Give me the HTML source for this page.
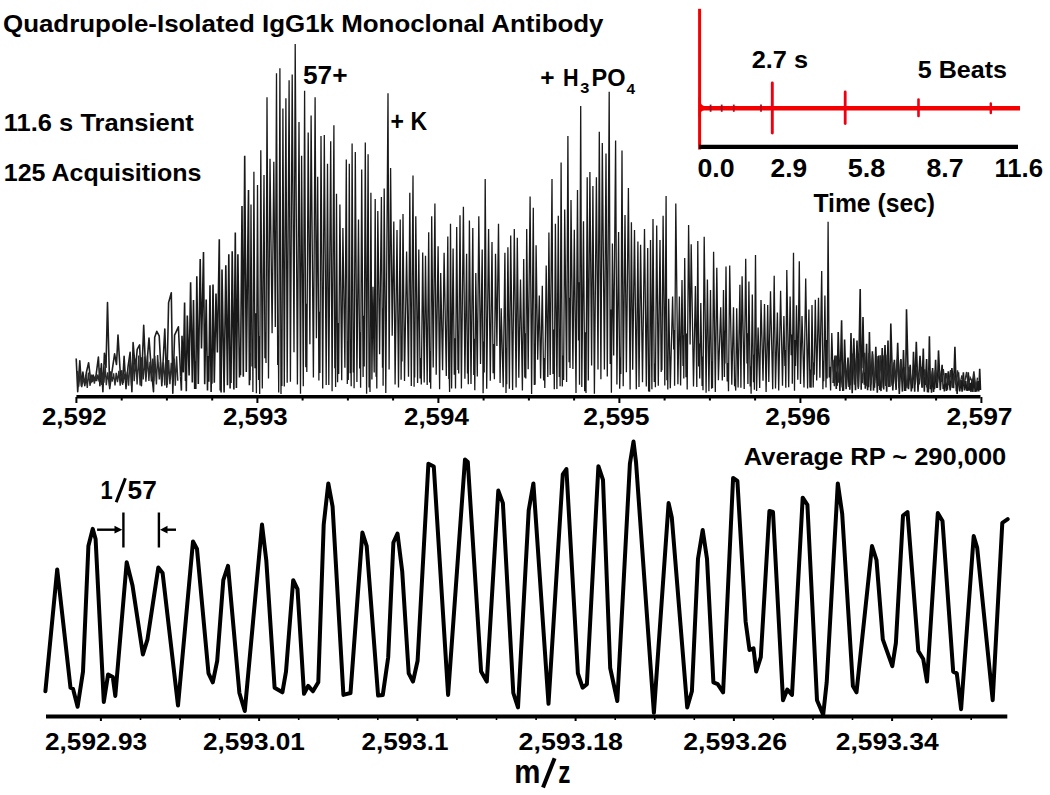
<!DOCTYPE html>
<html><head><meta charset="utf-8"><style>
html,body{margin:0;padding:0;background:#fff;width:1050px;height:795px;overflow:hidden}
svg{display:block}
text{font-family:"Liberation Sans",sans-serif;font-weight:bold;fill:#000}
</style></head><body>
<svg width="1050" height="795" viewBox="0 0 1050 795">
<rect width="1050" height="795" fill="#fff"/>
<path d="M249.8,352.8 250.1,380.3 251.0,204.5 252.0,366.6 252.6,341.3 252.9,392.1 253.9,171.8 255.0,368.2 255.6,313.3 256.4,393.3 257.5,185.0 258.6,380.1 259.0,336.0 259.7,394.0 260.8,150.3 262.3,388.6 264.0,175.0 264.9,358.3 265.4,332.3 266.0,363.1 267.0,97.3 268.5,378.4 270.0,158.7 272.1,333.3 273.8,161.7 275.3,327.0 276.5,73.2 277.7,365.0 278.3,335.7 278.7,392.6 279.9,68.2 281.0,394.1 281.3,349.7 281.9,386.1 282.9,108.4 284.3,386.4 285.9,98.3 287.2,382.7 289.1,80.2 290.4,381.7 292.2,74.6 294.0,352.2 295.2,44.0 297.4,384.4 299.0,122.0 300.5,393.7 301.6,155.7 303.3,386.3 304.6,90.7 305.8,367.2 306.6,303.8 306.8,372.1 308.2,132.6 309.9,344.3 311.1,115.5 313.4,377.6 315.1,97.3 316.4,338.2 317.7,176.8 318.9,380.6 319.2,311.7 319.9,372.9 321.0,136.0 322.7,388.4 324.3,135.0 326.2,385.1 327.5,163.8 328.8,384.9 330.7,141.3 332.1,391.3 333.9,125.3 334.8,368.2 335.1,317.6 335.6,387.0 336.5,193.7 337.6,382.3 338.1,323.0 338.7,373.9 339.9,204.4 341.7,380.2 342.9,228.0 344.9,367.8 346.3,159.5 347.3,383.9 347.9,341.1 348.3,380.1 349.3,163.8 350.2,373.2 350.7,353.1 351.2,386.3 352.1,143.5 353.3,372.5 353.8,339.3 354.1,388.3 355.3,152.0 356.9,381.9 358.5,219.4 359.7,368.4 360.1,332.3 360.6,387.7 361.7,169.6 363.1,377.0 363.4,315.8 364.2,366.4 365.3,142.4 366.6,393.8 368.1,154.2 369.1,387.4 369.6,369.5 370.0,391.9 370.9,192.7 371.9,379.4 373.0,286.8 374.2,372.4 375.2,199.0 376.1,376.8 376.4,332.7 376.8,388.5 377.8,210.9 379.6,354.3 381.4,197.0 382.5,367.8 382.9,308.3 383.1,385.8 384.2,188.4 385.8,393.0 388.0,93.2 389.1,369.5 390.6,168.0 392.2,335.7 393.8,221.6 395.1,384.6 397.0,230.0 398.5,387.5 400.2,219.4 401.1,379.7 401.5,341.4 402.0,361.6 403.0,214.0 404.5,380.9 406.6,251.5 408.5,376.7 409.8,192.7 411.3,386.1 413.0,175.6 414.1,386.8 414.4,326.4 414.7,377.5 415.8,216.2 417.6,383.1 418.8,249.4 420.1,378.5 420.6,358.0 421.3,384.6 422.7,252.6 424.2,382.4 425.5,255.8 427.2,385.1 428.7,232.2 429.7,382.6 430.3,350.9 430.7,388.8 431.7,216.2 433.2,367.4 434.9,203.4 436.2,374.7 438.1,246.3 439.6,389.3 440.7,273.0 442.6,370.2 444.1,252.7 446.3,376.0 447.8,236.6 448.8,379.0 449.0,362.1 449.6,391.9 450.5,223.8 451.6,388.4 453.1,248.4 454.3,374.7 455.0,338.2 455.5,388.6 456.7,227.0 458.0,370.0 458.3,341.8 458.7,373.6 460.0,215.2 461.4,388.6 463.4,206.7 464.9,378.7 466.6,253.7 467.5,373.5 467.9,360.4 468.3,384.2 469.4,220.6 471.0,383.9 472.8,228.1 473.8,374.9 474.2,338.7 474.8,390.3 475.8,273.0 477.3,376.4 478.8,216.3 480.5,364.1 482.2,249.5 483.1,393.2 483.8,341.5 484.2,372.5 485.2,178.9 486.7,388.8 488.6,229.1 490.3,380.8 492.0,242.0 493.1,373.3 493.7,344.1 494.4,379.3 495.5,253.7 496.9,346.0 498.5,223.8 500.1,383.0 501.2,308.3 503.2,387.2 504.9,252.7 506.0,393.1 506.5,348.2 506.7,384.3 507.9,247.3 509.4,388.7 510.7,235.6 512.6,389.9 514.3,229.1 516.1,387.6 517.3,237.7 518.8,377.8 520.5,279.4 522.4,390.6 523.7,259.1 524.8,377.5 525.1,333.2 525.8,378.6 526.7,229.1 528.2,369.2 530.1,196.6 531.6,394.0 533.3,207.8 534.3,385.1 534.7,356.8 535.1,384.8 536.1,245.2 537.7,359.8 539.3,295.5 540.6,378.5 542.3,285.8 543.6,380.5 544.4,358.0 544.8,388.1 546.2,265.5 547.8,377.1 548.9,232.4 550.2,375.0 552.0,178.9 553.0,374.1 553.7,329.4 554.3,389.3 555.4,223.8 556.9,388.9 558.3,215.8 559.3,376.9 559.8,328.8 560.1,386.3 561.1,162.4 562.3,386.4 563.0,355.5 563.6,379.9 564.7,209.4 566.6,382.1 567.9,136.0 569.1,362.3 569.5,297.7 570.0,367.9 571.0,200.0 572.9,369.1 574.3,229.7 576.0,393.1 577.5,190.0 578.5,340.4 579.0,282.3 579.5,384.7 580.7,106.1 581.8,387.0 583.5,221.2 584.7,391.3 585.5,332.3 586.0,393.1 587.2,177.3 588.3,380.6 589.9,172.0 591.6,365.5 592.9,185.9 594.4,393.7 596.4,177.3 598.0,369.6 599.3,131.8 600.9,379.2 602.3,143.1 604.4,369.4 606.0,153.4 607.3,376.6 609.2,91.8 610.2,364.0 610.8,309.5 611.4,392.8 612.4,243.6 613.7,355.6 615.6,140.5 616.9,384.5 618.6,231.9 619.7,388.7 620.3,357.6 620.8,374.1 622.0,150.6 623.2,386.2 625.0,215.0 626.4,372.3 628.4,188.0 630.1,389.6 631.4,222.2 632.7,369.7 634.5,230.0 636.3,389.3 637.9,241.5 639.0,386.9 640.6,244.7 642.5,382.3 644.5,229.1 646.3,386.5 647.7,247.9 648.6,391.5 649.0,371.0 649.6,391.8 650.5,240.0 651.9,389.3 653.0,219.0 654.3,382.1 655.0,363.4 655.4,387.2 656.7,225.5 658.3,385.8 660.0,240.0 661.2,371.9 661.6,353.5 661.9,370.3 663.1,215.8 664.8,385.4 666.1,196.0 666.9,380.2 667.5,359.9 667.8,389.5 668.7,298.7 670.3,388.3 672.6,296.6 673.7,349.6 674.2,330.0 674.6,385.7 675.8,203.5 677.9,384.2 679.4,296.6 680.6,385.4 682.0,280.0 683.0,365.9 683.5,335.2 683.8,378.5 684.7,258.1 686.0,377.3 686.5,333.5 687.2,389.5 688.6,224.9 690.1,344.4 691.2,244.2 693.5,386.6 695.4,285.9 696.8,386.9 697.8,241.0 698.7,366.5 699.4,343.6 699.7,378.6 700.8,303.0 702.1,385.9 702.6,356.5 703.0,390.3 704.2,236.7 706.1,392.8 707.4,279.5 708.9,391.2 710.5,290.0 711.6,388.7 712.0,361.1 712.5,387.9 713.6,251.7 715.3,392.0 716.8,267.7 718.4,380.3 720.7,307.3 722.3,380.6 723.5,290.0 724.4,377.1 724.9,330.8 725.0,363.4 726.0,266.6 727.2,381.6 727.9,363.0 728.5,391.2 729.7,265.6 731.8,384.8 733.5,307.3 734.6,386.3 735.1,378.8 735.7,390.6 736.7,308.3 738.1,387.4 739.9,284.8 740.9,387.8 742.1,276.3 744.2,389.0 745.7,258.7 747.0,363.5 747.4,333.2 747.9,384.0 748.9,281.6 750.2,386.4 750.6,366.3 751.1,393.8 752.3,294.4 753.5,382.2 753.8,354.8 754.4,389.7 755.5,254.9 756.6,391.0 758.1,327.6 759.7,388.1 761.0,300.0 763.0,380.7 764.5,304.1 766.1,392.1 767.7,305.1 768.8,382.0 770.5,291.2 772.7,389.3 774.2,275.8 775.5,388.5 777.4,312.6 778.7,390.5 780.6,290.8 782.5,385.8 783.9,315.9 784.9,366.1 785.2,350.0 785.8,387.7 786.8,269.9 788.7,387.2 790.1,296.6 791.2,355.3 791.9,334.5 792.3,383.8 793.5,252.8 794.5,390.7 795.1,340.0 795.5,365.9 796.5,305.2 797.8,379.8 799.3,261.3 800.5,384.1 802.0,315.9 804.0,387.6 805.7,278.4 807.6,388.4 808.9,309.5 809.9,387.4 810.5,369.6 811.1,387.8 812.0,305.0 813.2,387.4 813.8,362.6 814.2,374.8 815.3,299.8 816.7,380.5 818.5,297.7 819.9,377.8 821.7,271.0 822.9,389.2 823.5,361.2 823.7,381.2 824.9,295.6 826.0,387.5 826.6,340.0 827.1,378.4 828.1,221.8 829.2,377.4 829.9,366.7 830.6,390.5 831.8,333.0 833.3,383.0" fill="none" stroke="#1a1a1a" stroke-width="1.3" stroke-linejoin="miter"/>
<path d="M180.6,376.6 181.4,390.6 182.0,335.8 183.3,372.4 184.6,302.6 185.5,381.0 185.8,356.1 186.3,391.2 187.3,315.5 189.1,375.6 190.6,282.3 192.3,382.5 193.5,300.0 194.7,388.9 195.2,361.3 195.8,389.1 196.8,276.2 198.3,384.0 200.2,258.9 201.5,348.5 203.5,252.1 204.7,384.2 206.2,299.6 207.5,390.5 207.9,355.9 208.8,381.8 210.0,285.3 211.1,392.0 211.6,364.6 211.9,383.8 213.0,284.5 214.3,382.8 216.0,293.6 217.4,352.4 219.3,239.2 220.2,390.4 220.6,373.3 221.1,392.5 222.0,269.4 224.1,392.5 225.8,265.2 227.5,385.2 228.8,254.3 230.1,388.5 230.3,363.7 231.0,383.0 232.2,251.3 233.9,389.6 235.3,232.5 236.4,387.9 237.9,254.3 239.5,377.6 239.9,352.4 240.5,375.2 242.0,206.0 243.3,376.7 244.7,155.7 246.3,372.0 248.5,190.0 249.4,385.3 249.8,352.8 M833.3,383.0 835.0,355.5 836.3,389.0 836.6,371.8 837.1,385.9 838.2,331.9 839.9,391.1 841.6,320.2 842.8,390.9 843.2,382.7 843.5,390.7 844.6,339.4 846.1,389.2 848.0,357.6 849.0,386.9 849.4,378.4 849.8,389.7 851.0,333.0 852.2,393.2 853.8,338.3 855.5,390.3 857.0,340.5 858.4,387.3 860.2,289.1 861.2,389.7 861.6,349.4 861.9,368.2 863.0,317.0 864.3,384.7 864.9,372.5 865.3,388.7 866.6,343.7 867.6,390.3 868.1,379.0 868.5,387.2 869.4,331.9 870.7,390.8 872.4,351.2 873.5,390.6 874.0,381.4 874.5,387.8 875.8,346.9 877.3,392.6 878.8,355.5 879.9,390.0 880.7,384.0 881.0,391.1 882.2,348.0 883.7,389.5 885.0,345.0 886.7,391.8 888.0,340.5 888.9,382.1 889.3,365.1 889.9,386.9 890.8,323.4 892.8,390.4 894.4,359.7 896.1,389.9 897.7,342.7 899.3,393.9 900.9,359.1 902.4,391.6 903.5,350.0 904.7,391.0 905.0,375.5 905.6,391.0 906.5,309.2 908.5,389.3 910.2,364.8 911.3,391.4 912.0,384.5 912.4,388.4 913.5,351.7 914.7,391.7 916.3,341.9 918.0,391.7 920.0,355.8 922.0,387.7 923.3,348.5 924.3,391.7 925.0,376.7 925.4,384.9 926.6,359.1 927.5,392.3 927.9,385.1 928.4,392.4 929.4,336.2 930.4,389.3 931.0,377.9 931.5,392.6 932.6,368.1 933.6,391.9 934.2,380.6 934.5,389.3 935.6,359.9 936.6,388.0 937.0,379.6 937.4,388.0 938.5,350.4 940.3,390.1 942.1,364.8 943.2,389.0 943.7,384.6 944.4,391.5 945.4,373.0 946.5,391.0 947.0,384.0 947.4,389.7 948.3,371.3 950.2,390.5 951.9,368.1 953.6,388.2 954.9,346.8 956.3,391.1 956.8,384.7 957.1,394.0 958.5,372.2 959.7,391.4 961.1,380.1 962.1,391.7 963.4,372.2 964.4,390.5 965.8,381.1 966.6,390.7 967.0,386.2 967.5,390.9 968.3,372.2 969.2,390.6 970.2,382.8 971.0,391.9 971.9,380.5 972.9,392.0 974.0,374.6 975.1,391.9 975.9,382.7 976.8,391.7 977.8,381.2 978.8,391.4 979.7,368.9 980.5,390.0" fill="none" stroke="#1a1a1a" stroke-width="1.6" stroke-linejoin="miter"/>
<path d="M76.2,358.5 77.7,391.7 79.8,360.7 81.4,385.6 82.9,372.0 84.8,385.6 86.3,372.8 88.6,362.7 90.9,382.6 93.1,375.0 95.4,380.3 98.4,357.0 99.9,385.6 101.4,363.7 102.9,391.7 104.4,353.2 106.0,367.5 107.5,302.6 109.7,388.6 111.5,375.0 114.6,353.9 116.5,364.5 118.0,335.1 120.3,373.6 122.6,384.1 124.1,356.2 126.0,388.6 128.1,366.0 130.1,352.4 131.9,391.7 133.1,342.6 135.4,370.5 137.2,349.4 139.6,344.9 141.4,385.6 143.7,325.3 145.9,376.6 149.0,338.1 151.2,367.5 153.5,391.7 154.7,337.3 156.8,331.3 159.2,335.8 161.8,385.6 164.8,329.0 166.8,387.1 168.6,302.6 171.3,292.8 172.8,393.2 174.6,335.1 178.4,326.8 180.6,376.6" fill="none" stroke="#1e1e1e" stroke-width="1.6" stroke-linejoin="round"/>
<path d="M77.5,371.0 78.7,386.7 80.3,370.8 81.7,387.2 83.2,377.7 84.6,384.3 85.9,374.7 87.3,387.9 88.4,372.6 90.1,385.8 91.3,374.5 92.3,382.1 93.3,376.8 94.4,383.6 95.7,375.6 96.7,381.1 97.8,374.5 99.1,381.5 100.3,368.1 101.8,385.0 102.8,372.7 103.9,382.8 105.2,366.2 106.3,385.2 107.7,372.3 109.4,386.2 110.6,371.3 112.1,381.6 113.6,373.3 115.0,385.5 116.2,372.8 117.5,382.1 118.9,370.9 120.2,385.8 121.7,370.2 123.3,382.8 124.6,373.8 125.8,380.9 127.4,371.5 128.6,385.7 130.1,358.6 131.5,385.6 132.9,355.8 134.2,381.1 135.9,358.5 137.1,384.4 138.7,355.6 140.1,385.5 141.5,357.2 143.2,379.5 144.5,356.6 145.9,381.8 147.5,355.6 148.9,381.0 150.0,361.8 151.4,381.5 152.8,358.6 153.8,381.3 154.8,355.8 156.4,384.5 157.6,355.1 159.3,379.5 160.4,361.8 161.8,382.1 163.4,362.3 164.8,385.5 165.8,359.2 167.3,384.9 168.6,360.0 169.9,384.1 171.3,362.9 172.6,380.3 174.2,358.6 175.3,385.7 176.6,356.3 177.8,380.8 M833.0,359.8 834.4,386.3 836.2,355.5 838.3,382.6 840.0,361.7 842.2,387.5 844.3,362.4 846.5,386.7 848.2,359.6 850.5,385.1 852.6,353.6 854.5,384.8 856.6,358.0 858.3,388.9 860.1,353.4 862.4,383.3 864.7,352.7 866.9,386.1 869.0,353.1 870.9,384.5 872.6,354.0 874.6,383.3 877.0,356.1 878.8,385.9 880.3,355.3 881.8,387.6 884.0,355.2 885.7,386.0 887.2,354.8 888.7,387.0 890.4,363.2 892.0,385.7 894.0,362.2 895.6,384.2 897.3,358.7 899.0,388.2 900.6,359.9 902.8,380.7 904.9,367.2 907.0,388.3 908.8,366.8 911.2,384.5 913.1,370.0 915.2,384.5 917.0,368.3 919.3,384.5 921.2,366.9 922.6,387.4 924.8,369.3 926.8,387.3 928.7,369.8 930.3,385.0 932.4,370.7 934.0,382.5 935.4,369.8 937.4,383.2 939.5,370.5 941.3,381.8 943.3,369.1 944.9,383.9 946.9,373.2 948.5,385.1 950.6,370.1 952.2,387.8 953.9,374.8 955.8,384.6 957.5,370.4 959.6,386.1 961.9,375.3 964.2,384.5 966.6,372.0 968.3,386.9 970.1,377.3 972.4,381.9 973.9,371.3 975.9,388.5 977.5,377.7" fill="none" stroke="#2a2a2a" stroke-width="1.4"/>
<line x1="76.4" y1="396.8" x2="980.5" y2="396.8" stroke="#000" stroke-width="3.6"/>
<line x1="46" y1="716.5" x2="1007.3" y2="716.5" stroke="#000" stroke-width="4"/>
<line x1="76.4" y1="397" x2="76.4" y2="403" stroke="#000" stroke-width="2"/>
<line x1="121.7" y1="397" x2="121.7" y2="400.5" stroke="#000" stroke-width="2"/>
<line x1="166.9" y1="397" x2="166.9" y2="400.5" stroke="#000" stroke-width="2"/>
<line x1="212.2" y1="397" x2="212.2" y2="400.5" stroke="#000" stroke-width="2"/>
<line x1="257.4" y1="397" x2="257.4" y2="403" stroke="#000" stroke-width="2"/>
<line x1="302.6" y1="397" x2="302.6" y2="400.5" stroke="#000" stroke-width="2"/>
<line x1="347.9" y1="397" x2="347.9" y2="400.5" stroke="#000" stroke-width="2"/>
<line x1="393.1" y1="397" x2="393.1" y2="400.5" stroke="#000" stroke-width="2"/>
<line x1="438.4" y1="397" x2="438.4" y2="403" stroke="#000" stroke-width="2"/>
<line x1="483.6" y1="397" x2="483.6" y2="400.5" stroke="#000" stroke-width="2"/>
<line x1="528.9" y1="397" x2="528.9" y2="400.5" stroke="#000" stroke-width="2"/>
<line x1="574.1" y1="397" x2="574.1" y2="400.5" stroke="#000" stroke-width="2"/>
<line x1="619.4" y1="397" x2="619.4" y2="403" stroke="#000" stroke-width="2"/>
<line x1="664.6" y1="397" x2="664.6" y2="400.5" stroke="#000" stroke-width="2"/>
<line x1="709.9" y1="397" x2="709.9" y2="400.5" stroke="#000" stroke-width="2"/>
<line x1="755.1" y1="397" x2="755.1" y2="400.5" stroke="#000" stroke-width="2"/>
<line x1="800.4" y1="397" x2="800.4" y2="403" stroke="#000" stroke-width="2"/>
<line x1="845.6" y1="397" x2="845.6" y2="400.5" stroke="#000" stroke-width="2"/>
<line x1="890.9" y1="397" x2="890.9" y2="400.5" stroke="#000" stroke-width="2"/>
<line x1="936.1" y1="397" x2="936.1" y2="400.5" stroke="#000" stroke-width="2"/>
<line x1="981.4" y1="397" x2="981.4" y2="403" stroke="#000" stroke-width="2"/>
<line x1="100.9" y1="717" x2="100.9" y2="721" stroke="#000" stroke-width="2"/>
<line x1="140.5" y1="717" x2="140.5" y2="720" stroke="#000" stroke-width="1.6"/>
<line x1="180.0" y1="717" x2="180.0" y2="720" stroke="#000" stroke-width="1.6"/>
<line x1="219.6" y1="717" x2="219.6" y2="720" stroke="#000" stroke-width="1.6"/>
<line x1="259.1" y1="717" x2="259.1" y2="721" stroke="#000" stroke-width="2"/>
<line x1="298.7" y1="717" x2="298.7" y2="720" stroke="#000" stroke-width="1.6"/>
<line x1="338.3" y1="717" x2="338.3" y2="720" stroke="#000" stroke-width="1.6"/>
<line x1="377.8" y1="717" x2="377.8" y2="720" stroke="#000" stroke-width="1.6"/>
<line x1="417.4" y1="717" x2="417.4" y2="721" stroke="#000" stroke-width="2"/>
<line x1="456.9" y1="717" x2="456.9" y2="720" stroke="#000" stroke-width="1.6"/>
<line x1="496.5" y1="717" x2="496.5" y2="720" stroke="#000" stroke-width="1.6"/>
<line x1="536.1" y1="717" x2="536.1" y2="720" stroke="#000" stroke-width="1.6"/>
<line x1="575.6" y1="717" x2="575.6" y2="721" stroke="#000" stroke-width="2"/>
<line x1="615.2" y1="717" x2="615.2" y2="720" stroke="#000" stroke-width="1.6"/>
<line x1="654.7" y1="717" x2="654.7" y2="720" stroke="#000" stroke-width="1.6"/>
<line x1="694.3" y1="717" x2="694.3" y2="720" stroke="#000" stroke-width="1.6"/>
<line x1="733.9" y1="717" x2="733.9" y2="721" stroke="#000" stroke-width="2"/>
<line x1="773.4" y1="717" x2="773.4" y2="720" stroke="#000" stroke-width="1.6"/>
<line x1="813.0" y1="717" x2="813.0" y2="720" stroke="#000" stroke-width="1.6"/>
<line x1="852.5" y1="717" x2="852.5" y2="720" stroke="#000" stroke-width="1.6"/>
<line x1="892.1" y1="717" x2="892.1" y2="721" stroke="#000" stroke-width="2"/>
<line x1="931.7" y1="717" x2="931.7" y2="720" stroke="#000" stroke-width="1.6"/>
<line x1="971.2" y1="717" x2="971.2" y2="720" stroke="#000" stroke-width="1.6"/>
<line x1="699.6" y1="8.8" x2="699.6" y2="149.5" stroke="#f40000" stroke-width="3"/>
<path d="M698.5,96 Q700,105 704,106 L704,110 Q700,111 698.5,118 Z" fill="#f40000"/>
<line x1="699.4" y1="108.2" x2="1020" y2="108.2" stroke="#f40000" stroke-width="4.6"/>
<line x1="710.6" y1="104.6" x2="710.6" y2="111.8" stroke="#9a1020" stroke-width="1.8"/>
<line x1="721.7" y1="104.6" x2="721.7" y2="111.8" stroke="#9a1020" stroke-width="1.8"/>
<line x1="733.8" y1="104.6" x2="733.8" y2="111.8" stroke="#c00818" stroke-width="1.8"/>
<line x1="761.0" y1="104.6" x2="761.0" y2="111.8" stroke="#b00a1a" stroke-width="1.8"/>
<line x1="772.3" y1="83.0" x2="772.3" y2="133.0" stroke="#ee0010" stroke-width="2.9" stroke-linecap="round"/>
<line x1="845.2" y1="92.0" x2="845.2" y2="123.5" stroke="#ee0010" stroke-width="2.8" stroke-linecap="round"/>
<line x1="918.5" y1="99.5" x2="918.5" y2="116.0" stroke="#ee0010" stroke-width="2.6" stroke-linecap="round"/>
<line x1="990.8" y1="103.5" x2="990.8" y2="113.0" stroke="#ee0010" stroke-width="2.4" stroke-linecap="round"/>
<line x1="699" y1="146.8" x2="1018" y2="146.8" stroke="#000" stroke-width="4.2"/>
<path d="M45.4,691.3 57.2,569.4 70.5,687.7 73.0,688.8 77.6,706.7 83.0,671.6 88.4,546.0 92.7,528.9 95.6,539.0 103.8,702.0 108.1,674.4 112.8,677.0 115.3,695.9 126.7,562.2 132.5,585.5 142.9,654.4 147.5,639.3 158.3,567.6 162.6,573.0 178.0,705.6 193.0,541.5 197.0,549.0 208.5,673.4 212.8,682.3 217.2,660.8 223.3,580.2 228.0,565.8 239.4,693.0 244.8,711.0 262.0,524.6 266.3,560.4 274.6,687.7 282.4,692.3 286.0,671.6 293.2,580.2 297.5,589.1 304.0,693.8 308.2,685.9 312.9,691.3 318.3,682.3 323.7,524.6 328.3,483.4 332.6,506.7 343.4,694.9 350.5,693.0 362.4,532.5 366.7,546.1 378.1,695.6 382.8,694.9 388.2,657.2 393.4,542.5 397.5,533.6 402.2,571.2 408.7,673.4 413.0,681.6 417.6,660.8 428.4,463.7 433.8,466.5 448.1,694.9 465.0,459.4 467.8,461.9 481.1,671.6 486.8,681.6 498.3,490.6 502.9,503.1 513.3,693.0 518.0,707.4 528.7,510.3 533.4,483.4 548.5,703.8 562.8,474.4 566.4,469.0 577.9,673.4 582.6,687.7 586.9,684.1 598.4,466.2 603.0,479.8 610.2,668.0 617.3,701.0 629.9,463.7 633.5,441.5 636.0,461.9 653.9,712.8 668.6,503.1 671.8,517.4 687.2,707.4 691.9,691.3 698.0,558.7 702.7,530.0 707.0,558.7 713.4,682.3 717.7,684.1 723.1,692.3 733.1,478.0 737.4,480.9 745.6,621.4 749.5,650.0 753.5,648.3 756.2,671.6 760.8,657.2 769.4,511.0 773.0,512.0 783.0,700.2 787.3,689.5 792.0,694.9 802.7,497.7 807.4,504.9 817.0,700.2 823.2,714.6 826.7,682.3 837.8,483.4 842.2,513.9 852.9,685.9 856.5,692.3 872.0,546.1 876.5,560.0 882.8,639.3 892.3,666.2 895.9,642.9 903.0,515.6 907.5,512.0 918.3,651.0 923.2,659.0 927.0,681.6 937.8,513.1 942.5,521.0 953.2,671.6 956.8,673.4 961.1,709.2 973.7,536.1 977.2,547.9 992.7,700.2 1002.3,522.8 1007.7,519.2" fill="none" stroke="#000" stroke-width="4" stroke-linejoin="round" stroke-linecap="round"/>
<line x1="123.4" y1="512.5" x2="123.4" y2="547.5" stroke="#000" stroke-width="2.4"/>
<line x1="158.9" y1="512.5" x2="158.9" y2="547.5" stroke="#000" stroke-width="2.4"/>
<line x1="97.1" y1="529.7" x2="116" y2="529.7" stroke="#000" stroke-width="2.4"/>
<path d="M114.5,525.8 L122.3,529.7 L114.5,533.6 Z" fill="#000"/>
<line x1="166" y1="529.7" x2="176" y2="529.7" stroke="#000" stroke-width="2.4"/>
<path d="M167.5,525.8 L160,529.7 L167.5,533.6 Z" fill="#000"/>
<text x="3.0" y="32.0" font-size="23.5" text-anchor="start" textLength="600.5" lengthAdjust="spacingAndGlyphs" >Quadrupole-Isolated IgG1k Monoclonal Antibody</text>
<text x="303.0" y="83.5" font-size="25.0" text-anchor="start" textLength="44.6" lengthAdjust="spacingAndGlyphs" >57+</text>
<text x="390.6" y="130.0" font-size="25.0" text-anchor="start" textLength="36.4" lengthAdjust="spacingAndGlyphs" >+ K</text>
<text x="3.8" y="131.4" font-size="24.0" text-anchor="start" textLength="190.0" lengthAdjust="spacingAndGlyphs" >11.6 s Transient</text>
<text x="3.8" y="180.7" font-size="24.5" text-anchor="start" textLength="197.7" lengthAdjust="spacingAndGlyphs" >125 Acquisitions</text>
<text x="540.3" y="85.7" font-size="24.4" text-anchor="start" textLength="14.3" lengthAdjust="spacingAndGlyphs" >+</text>
<text x="563.0" y="85.7" font-size="24.6" text-anchor="start" textLength="15.6" lengthAdjust="spacingAndGlyphs" >H</text>
<text x="580.3" y="93.1" font-size="14.5" text-anchor="start" textLength="9.1" lengthAdjust="spacingAndGlyphs" >3</text>
<text x="591.6" y="85.7" font-size="24.6" text-anchor="start" textLength="34.0" lengthAdjust="spacingAndGlyphs" >PO</text>
<text x="626.4" y="93.5" font-size="15.0" text-anchor="start" textLength="8.6" lengthAdjust="spacingAndGlyphs" >4</text>
<text x="751.7" y="68.3" font-size="24.5" text-anchor="start" textLength="56.3" lengthAdjust="spacingAndGlyphs" >2.7 s</text>
<text x="917.8" y="78.0" font-size="24.5" text-anchor="start" textLength="89.2" lengthAdjust="spacingAndGlyphs" >5 Beats</text>
<text x="697.5" y="177.3" font-size="25.0" text-anchor="start" textLength="37.1" lengthAdjust="spacingAndGlyphs" >0.0</text>
<text x="770.6" y="177.3" font-size="25.0" text-anchor="start" textLength="36.6" lengthAdjust="spacingAndGlyphs" >2.9</text>
<text x="847.7" y="177.3" font-size="25.0" text-anchor="start" textLength="37.7" lengthAdjust="spacingAndGlyphs" >5.8</text>
<text x="926.5" y="177.3" font-size="25.0" text-anchor="start" textLength="37.1" lengthAdjust="spacingAndGlyphs" >8.7</text>
<text x="994.4" y="177.3" font-size="25.0" text-anchor="start" textLength="48.7" lengthAdjust="spacingAndGlyphs" >11.6</text>
<text x="813.4" y="211.8" font-size="25.5" text-anchor="start" textLength="121.7" lengthAdjust="spacingAndGlyphs" >Time (sec)</text>
<text x="41.9" y="424.8" font-size="23.3" text-anchor="start" textLength="64.8" lengthAdjust="spacingAndGlyphs" >2,592</text>
<text x="222.9" y="424.8" font-size="23.3" text-anchor="start" textLength="64.8" lengthAdjust="spacingAndGlyphs" >2,593</text>
<text x="404.0" y="424.8" font-size="23.3" text-anchor="start" textLength="64.8" lengthAdjust="spacingAndGlyphs" >2,594</text>
<text x="583.3" y="424.8" font-size="23.3" text-anchor="start" textLength="66.3" lengthAdjust="spacingAndGlyphs" >2,595</text>
<text x="765.3" y="424.8" font-size="23.3" text-anchor="start" textLength="65.3" lengthAdjust="spacingAndGlyphs" >2,596</text>
<text x="946.4" y="424.8" font-size="23.3" text-anchor="start" textLength="66.2" lengthAdjust="spacingAndGlyphs" >2,597</text>
<text x="743.8" y="464.8" font-size="24.0" text-anchor="start" textLength="262.4" lengthAdjust="spacingAndGlyphs" >Average RP ~ 290,000</text>
<text x="100.6" y="498.6" font-size="25.0" text-anchor="start" textLength="12.2" lengthAdjust="spacingAndGlyphs" >1</text>
<line x1="125.4" y1="478.2" x2="116.2" y2="502.2" stroke="#000" stroke-width="3"/>
<text x="127.6" y="498.6" font-size="25.0" text-anchor="start" textLength="29.2" lengthAdjust="spacingAndGlyphs" >57</text>
<text x="44.9" y="750.0" font-size="24.5" text-anchor="start" textLength="102.2" lengthAdjust="spacingAndGlyphs" >2,592.93</text>
<text x="202.9" y="750.0" font-size="24.5" text-anchor="start" textLength="102.0" lengthAdjust="spacingAndGlyphs" >2,593.01</text>
<text x="361.4" y="750.0" font-size="24.5" text-anchor="start" textLength="87.2" lengthAdjust="spacingAndGlyphs" >2,593.1</text>
<text x="518.6" y="750.0" font-size="24.5" text-anchor="start" textLength="104.3" lengthAdjust="spacingAndGlyphs" >2,593.18</text>
<text x="683.3" y="750.0" font-size="24.5" text-anchor="start" textLength="103.7" lengthAdjust="spacingAndGlyphs" >2,593.26</text>
<text x="835.7" y="750.0" font-size="24.5" text-anchor="start" textLength="102.9" lengthAdjust="spacingAndGlyphs" >2,593.34</text>
<text x="514.2" y="782.7" font-size="33.5" text-anchor="start" textLength="26.2" lengthAdjust="spacingAndGlyphs" >m</text>
<line x1="554.6" y1="758.2" x2="543" y2="787.6" stroke="#000" stroke-width="4"/>
<text x="558.3" y="782.7" font-size="31.0" text-anchor="start" textLength="12.2" lengthAdjust="spacingAndGlyphs" >z</text>
</svg>
</body></html>
